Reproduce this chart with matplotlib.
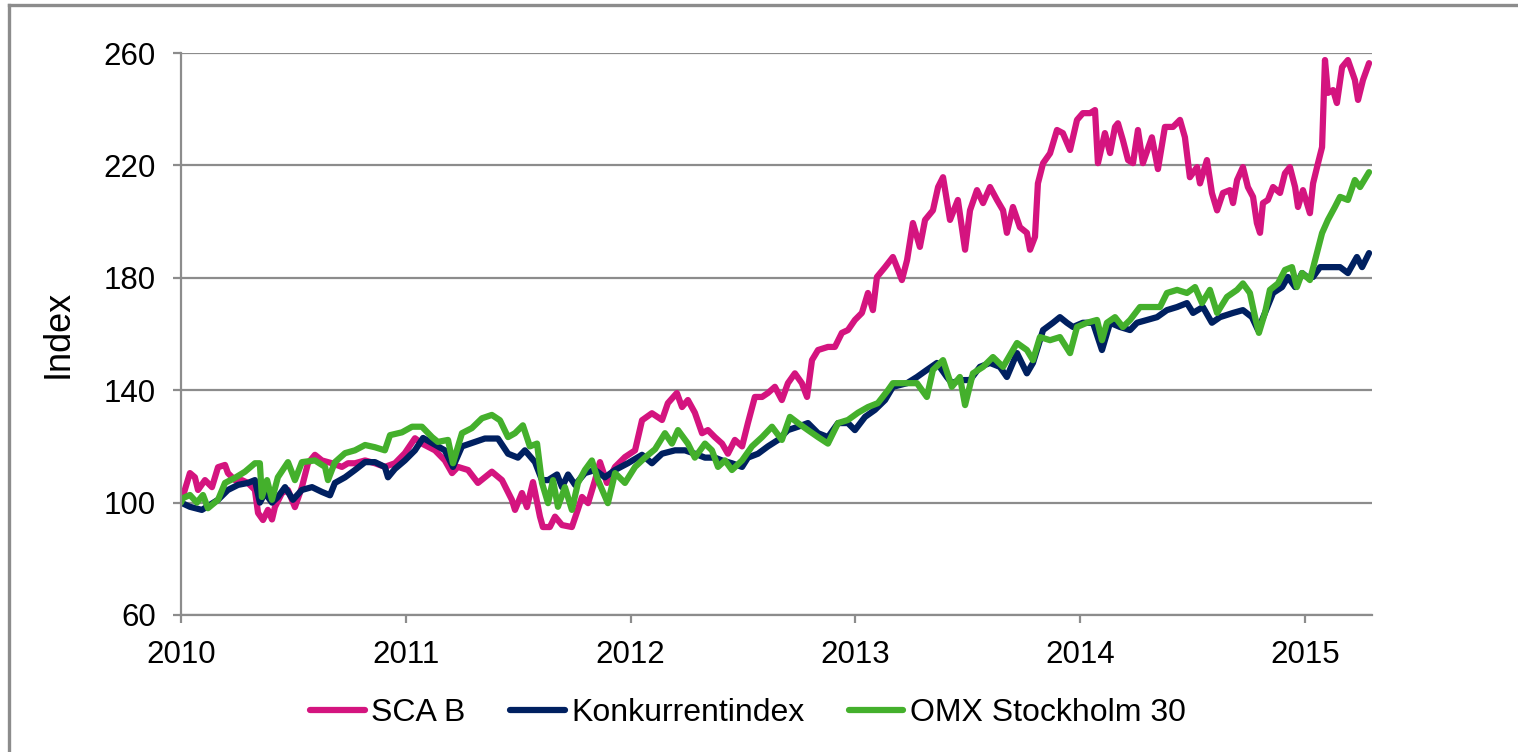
import numpy as np
import matplotlib
matplotlib.use("Agg")
import matplotlib.pyplot as plt
from matplotlib.lines import Line2D

plt.rcParams['font.family'] = ['Liberation Sans', 'DejaVu Sans']

# values (decimal year, index)
sca_t = [2010.000, 2010.040, 2010.062, 2010.076, 2010.107, 2010.138, 2010.165, 2010.196, 2010.209,
         2010.240, 2010.271, 2010.298, 2010.329, 2010.343, 2010.365, 2010.387, 2010.405, 2010.418,
         2010.449, 2010.476, 2010.507, 2010.538, 2010.565, 2010.596, 2010.627, 2010.672, 2010.716,
         2010.743, 2010.774, 2010.819, 2010.863, 2010.907, 2010.952, 2010.996, 2011.041, 2011.072,
         2011.130, 2011.174, 2011.206, 2011.232, 2011.277, 2011.321, 2011.383, 2011.428, 2011.472,
         2011.486, 2011.517, 2011.539, 2011.566, 2011.597, 2011.610, 2011.641, 2011.664, 2011.695,
         2011.739, 2011.762, 2011.784, 2011.811, 2011.842, 2011.864, 2011.895, 2011.931, 2011.975,
         2012.020, 2012.051, 2012.095, 2012.140, 2012.166, 2012.206, 2012.229, 2012.255, 2012.286,
         2012.318, 2012.344, 2012.375, 2012.407, 2012.433, 2012.464, 2012.496, 2012.522, 2012.553,
         2012.585, 2012.611, 2012.642, 2012.673, 2012.700, 2012.731, 2012.762, 2012.785, 2012.807,
         2012.834, 2012.878, 2012.909, 2012.940, 2012.967, 2012.998, 2013.029, 2013.056, 2013.078,
         2013.096, 2013.132, 2013.167, 2013.190, 2013.207, 2013.230, 2013.256, 2013.287, 2013.310,
         2013.345, 2013.368, 2013.390, 2013.421, 2013.456, 2013.488, 2013.510, 2013.541, 2013.568,
         2013.599, 2013.630, 2013.657, 2013.674, 2013.701, 2013.732, 2013.763, 2013.777, 2013.799,
         2013.812, 2013.835, 2013.866, 2013.897, 2013.923, 2013.955, 2013.986, 2014.012, 2014.044,
         2014.066, 2014.079, 2014.110, 2014.133, 2014.155, 2014.168, 2014.190, 2014.213, 2014.235,
         2014.257, 2014.279, 2014.319, 2014.346, 2014.377, 2014.413, 2014.444, 2014.466, 2014.488,
         2014.520, 2014.533, 2014.564, 2014.586, 2014.609, 2014.635, 2014.666, 2014.680, 2014.698,
         2014.724, 2014.746, 2014.769, 2014.786, 2014.800, 2014.813, 2014.835, 2014.858, 2014.889,
         2014.911, 2014.933, 2014.956, 2014.969, 2014.991, 2015.022, 2015.036, 2015.058, 2015.076,
         2015.089, 2015.102, 2015.125, 2015.142, 2015.165, 2015.191, 2015.222, 2015.236, 2015.258,
         2015.285]
sca_v = [100, 110.5, 109, 104.5, 108, 105.5, 112.6, 113.4, 110.5,
         108, 108, 107, 104.5, 96.3, 93.8, 97.4, 94, 98.4,
         103.4, 104.5, 98.4, 105.5, 114, 117, 115, 114, 112.7,
         114, 114, 115, 114, 112.7, 114, 117.6, 122.9, 121,
         118.6, 115, 110.5, 112.7, 111.6, 107, 111, 108, 101,
         97.4, 103.4, 98.4, 107.3, 95, 91.3, 91.3, 95, 92,
         91.3, 96.7, 102, 99.8, 108, 114.4, 107, 112.7, 116.2,
         118.6, 129.3, 131.8, 129.4, 135.4, 139, 134, 136.5, 132,
         124.7, 125.8, 123.3, 121, 117.4, 122.3, 120, 128.3, 137.6,
         137.6, 139, 141.2, 136.5, 142.5, 146, 142.5, 137.6, 150.7,
         154.3, 155.4, 155.4, 160.4, 161.4, 165, 167.5, 174.6, 168.5,
         180.3, 183.8, 187.4, 182.8, 179.2, 186.3, 199.5, 191, 200.6,
         204, 212.3, 215.8, 200.6, 207.7, 190, 204, 211.2, 206.6,
         212.3, 207.7, 204, 196, 205.2, 198, 196, 190, 194.6,
         213.6, 220.8, 224.3, 232.6, 231.5, 225.5, 236.2, 238.6, 238.6,
         239.7, 220.8, 231.5, 224.4, 233.7, 235, 229, 221.9, 220.8,
         232.6, 220.8, 230, 218.7, 233.7, 233.7, 236.2, 230, 215.8,
         219.4, 213.6, 221.9, 210.2, 204, 210.2, 211.2, 206.6, 214.8,
         219.4, 212.3, 208.8, 199.5, 196, 206.6, 207.7, 212.3, 210.2,
         217.2, 219.4, 212.3, 205.2, 211.2, 203, 213.6, 220.8, 226.5,
         257.5, 245.8, 246.8, 242.2, 255, 257.5, 250.4, 243.3, 250.4,
         256.4]

konk_t = [2010.000, 2010.040, 2010.093, 2010.165, 2010.209, 2010.254, 2010.298, 2010.329, 2010.351,
          2010.374, 2010.405, 2010.431, 2010.463, 2010.498, 2010.538, 2010.583, 2010.627, 2010.663,
          2010.685, 2010.730, 2010.774, 2010.819, 2010.863, 2010.907, 2010.921, 2010.952, 2010.996,
          2011.041, 2011.077, 2011.174, 2011.210, 2011.250, 2011.308, 2011.352, 2011.410, 2011.455,
          2011.499, 2011.530, 2011.575, 2011.606, 2011.633, 2011.673, 2011.695, 2011.722, 2011.753,
          2011.797, 2011.842, 2011.886, 2011.931, 2011.988, 2012.051, 2012.095, 2012.140, 2012.198,
          2012.242, 2012.286, 2012.331, 2012.375, 2012.407, 2012.451, 2012.496, 2012.522, 2012.567,
          2012.611, 2012.656, 2012.700, 2012.745, 2012.789, 2012.834, 2012.878, 2012.923, 2012.967,
          2012.998, 2013.043, 2013.087, 2013.132, 2013.167, 2013.230, 2013.274, 2013.318, 2013.363,
          2013.407, 2013.429, 2013.465, 2013.510, 2013.554, 2013.599, 2013.643, 2013.674, 2013.719,
          2013.763, 2013.790, 2013.835, 2013.879, 2013.910, 2013.941, 2013.968, 2014.012, 2014.057,
          2014.097, 2014.133, 2014.177, 2014.222, 2014.253, 2014.297, 2014.342, 2014.386, 2014.431,
          2014.475, 2014.502, 2014.546, 2014.586, 2014.622, 2014.680, 2014.724, 2014.764, 2014.791,
          2014.822, 2014.858, 2014.898, 2014.924, 2014.956, 2014.987, 2015.009, 2015.036, 2015.067,
          2015.111, 2015.156, 2015.191, 2015.231, 2015.254, 2015.285]
konk_v = [100, 98.5, 97.4, 101, 104.5, 106.3, 107, 108, 100,
          103.4, 100, 102, 105.5, 101, 104.5, 105.5, 103.8, 102.6,
          107, 109, 111.6, 114.4, 114.4, 112.7, 109, 112, 115,
          118.6, 123, 118.6, 112.7, 120, 121.6, 122.8, 122.8, 117.4,
          116, 118.6, 114.4, 108, 108, 110, 105.5, 110, 106.3,
          110.5, 111.6, 109, 111.6, 114, 117, 114, 117.4, 118.6,
          118.6, 117.4, 116, 116, 115, 114, 112.7, 116, 117.4,
          120, 122.3, 125.8, 127, 128.3, 124.7, 123.3, 128.3, 128.3,
          125.8, 130.5, 133, 136.5, 141.2, 142.5, 144.7, 147.2, 149.7,
          144.7, 142.5, 143.6, 143.6, 148.3, 149.7, 148.3, 144.7, 153.2,
          146, 149.7, 161.4, 164, 166, 164, 162.5, 164, 164,
          154.3, 164, 162.5, 161.4, 164, 165, 166, 168.5, 169.6,
          171, 167.5, 169.6, 164, 166, 167.5, 168.5, 166, 161.4,
          167.5, 174.6, 176.7, 180.3, 176.7, 181.7, 180.3, 180.3, 183.8,
          183.8, 183.8, 181.7, 187.4, 183.8, 188.8]

omx_t = [2010.000, 2010.009, 2010.040, 2010.071, 2010.098, 2010.120, 2010.165, 2010.196, 2010.240,
         2010.285, 2010.329, 2010.351, 2010.360, 2010.383, 2010.405, 2010.431, 2010.476, 2010.507,
         2010.538, 2010.596, 2010.641, 2010.654, 2010.685, 2010.730, 2010.774, 2010.819, 2010.863,
         2010.907, 2010.930, 2010.983, 2011.028, 2011.072, 2011.117, 2011.143, 2011.188, 2011.210,
         2011.250, 2011.294, 2011.339, 2011.383, 2011.419, 2011.455, 2011.486, 2011.521, 2011.552,
         2011.584, 2011.606, 2011.633, 2011.655, 2011.677, 2011.708, 2011.739, 2011.766, 2011.797,
         2011.828, 2011.855, 2011.899, 2011.931, 2011.975, 2012.020, 2012.064, 2012.109, 2012.153,
         2012.184, 2012.211, 2012.255, 2012.286, 2012.331, 2012.362, 2012.389, 2012.420, 2012.451,
         2012.496, 2012.540, 2012.585, 2012.629, 2012.673, 2012.709, 2012.745, 2012.789, 2012.834,
         2012.878, 2012.923, 2012.967, 2013.012, 2013.056, 2013.100, 2013.145, 2013.167, 2013.230,
         2013.274, 2013.318, 2013.345, 2013.390, 2013.429, 2013.465, 2013.488, 2013.523, 2013.568,
         2013.612, 2013.657, 2013.719, 2013.763, 2013.790, 2013.821, 2013.866, 2013.910, 2013.955,
         2013.986, 2014.030, 2014.075, 2014.097, 2014.119, 2014.155, 2014.190, 2014.222, 2014.266,
         2014.310, 2014.355, 2014.386, 2014.431, 2014.475, 2014.511, 2014.542, 2014.577, 2014.609,
         2014.653, 2014.698, 2014.724, 2014.755, 2014.778, 2014.795, 2014.822, 2014.844, 2014.880,
         2014.911, 2014.942, 2014.964, 2014.987, 2015.022, 2015.053, 2015.076, 2015.102, 2015.133,
         2015.156, 2015.191, 2015.222, 2015.245, 2015.285]
omx_v = [100, 101.6, 102.7, 100, 102.7, 98, 101, 107, 108.8,
         111, 114, 114, 102, 108, 101, 109, 114.4, 108,
         114.4, 115, 112.7, 108, 114.4, 117.6, 118.6, 120.5, 119.7,
         118.6, 124, 125, 127, 127, 123.3, 121.6, 122.3, 114,
         124.7, 126.5, 130, 131.2, 129.3, 123.3, 124.7, 127.5, 120,
         121, 107, 99.8, 108, 98.5, 105.5, 97.4, 107, 111.6,
         115, 108, 99.8, 110.5, 107, 112.7, 116, 119, 124.7,
         121, 125.8, 121, 116, 121, 118.6, 112.7, 115, 111.6,
         115, 120, 123.3, 127, 122.3, 130.5, 128.3, 125.8, 123.3,
         121, 128.3, 129.4, 132, 134, 135.4, 140, 142.5, 142.5,
         142.5, 137.6, 147.2, 150.7, 141.2, 144.7, 134.7, 146, 148.3,
         151.8, 148.3, 156.8, 154.3, 150.7, 158.9, 157.8, 158.9, 153.2,
         162.5, 164, 165, 157.8, 164, 166, 162.5, 165, 169.6,
         169.6, 169.6, 174.6, 175.7, 174.6, 176.7, 171, 175.7, 167.5,
         173.2, 175.7, 178, 174.6, 166, 160.4, 167.5, 175.7, 178,
         182.8, 183.8, 176.7, 181.7, 179.2, 188.8, 195.9, 200.6, 205.2,
         208.8, 207.7, 214.8, 212.3, 217.6]

labels = ["SCA B", "Konkurrentindex", "OMX Stockholm 30"]
colors = ["#d4147f", "#002060", "#44b02c"]
years = [2010, 2011, 2012, 2013, 2014, 2015]
yticks = [60, 100, 140, 180, 220, 260]

fig = plt.figure(figsize=(15.18, 7.52), dpi=100)
ax = fig.add_axes([0.1192, 0.1822, 0.7846, 0.7473])

grey = "#8c8c8c"
for t, v, lab, c in zip([sca_t, konk_t, omx_t], [sca_v, konk_v, omx_v], labels, colors):
    ax.plot(t, v, color=c, lw=4.5, label=lab, solid_joinstyle='round', solid_capstyle='round')

ax.set_xlim(2010, 2015.298)
ax.set_ylim(60, 260)
ax.set_xticks(years)
ax.set_xticklabels([str(y) for y in years])
ax.set_yticks(yticks)
ax.yaxis.grid(True, color=grey, lw=1.6)
ax.set_axisbelow(True)
for s in ["top", "right"]:
    ax.spines[s].set_visible(False)
for s in ["left", "bottom"]:
    ax.spines[s].set_color(grey)
    ax.spines[s].set_linewidth(1.6)
ax.tick_params(axis='both', colors=grey, labelcolor='black', labelsize=22.5,
               length=6, width=1.6, direction='out')
ax.tick_params(axis='y', pad=12)
ax.tick_params(axis='x', pad=12)
ax.set_ylabel("Index", fontsize=26, labelpad=20)

fig.legend(loc='center', bbox_to_anchor=(748 / 1518, 1 - 713 / 752), ncol=3,
           frameon=False, fontsize=23, handlelength=1.7, handletextpad=0.2,
           columnspacing=1.4)

# outer frame (top and left edge only)
fig.add_artist(Line2D([9 / 1518, 9 / 1518], [0, 1 - 5 / 752], transform=fig.transFigure,
                      color=grey, lw=2.4))
fig.add_artist(Line2D([9 / 1518, 1], [1 - 5 / 752, 1 - 5 / 752], transform=fig.transFigure,
                      color=grey, lw=2.4))

fig.savefig("out.png", dpi=100)
